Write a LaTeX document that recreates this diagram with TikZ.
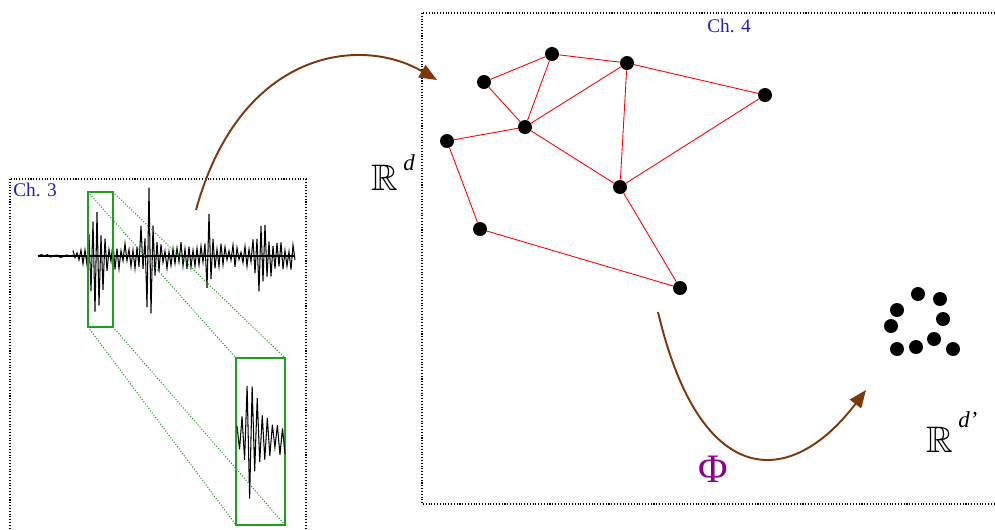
\documentclass[tikz,border=0pt]{standalone}
\usepackage{amsmath, amssymb}
\usepackage{fontspec}
\setmainfont{Liberation Serif}
\usetikzlibrary{arrows.meta}
\definecolor{chapBlue}{RGB}{30, 30, 190}
\definecolor{arrowBrown}{RGB}{125, 55, 10}
\definecolor{zoomGreen}{RGB}{30, 160, 30}
\definecolor{phiPurple}{RGB}{140, 0, 140}

\tikzset{
  vertex/.style={circle, fill=black, inner sep=0pt, minimum size=0.28cm},
  edge/.style={red, line width=0.5pt},
  chapbox/.style={densely dotted, line width=0.6pt},
  chaplabel/.style={text=chapBlue, font=\fontsize{11}{13}\selectfont, inner sep=0pt},
  mapto/.style={arrowBrown, line width=1.1pt, -{Triangle[length=10pt, width=8pt]}},
  zoombox/.style={zoomGreen, line width=0.6pt},
  zoomline/.style={zoomGreen, densely dotted, line width=0.6pt},
  signal/.style={black, line width=0.6pt, line join=miter},
}

\begin{document}
\begin{tikzpicture}[x=0.02cm, y=-0.02cm]
  \useasboundingbox (0,0) rectangle (995,529);
  \clip (0,0) rectangle (995,529);
  \pgfmathsetseed{5}

  % Chapter frames
  \draw[chapbox] (10,179) rectangle (306,560);
  \node[chaplabel] (ch3) at (35,190) {Ch. 3};
  \draw[chapbox] (422,13) rectangle (1020,504);
  \node[chaplabel] (ch4) at (729,26) {Ch. 4};

  % Seismic trace
  \draw[signal] (38,256) -- (295,256);
  \draw[signal] plot[domain=38:73, samples=12] (\x,{256+1.5*rand});
  \draw[signal] plot[domain=73:295, samples=112]
    (\x,{256-(6+8*(\x>112)+60*exp(-((\x-96)/8)^2)+60*exp(-((\x-148)/7)^2)
      +30*exp(-((\x-209)/3)^2)+30*exp(-((\x-263)/7)^2))
      *(1-2*mod(round((\x-73)/2),2))*(0.25+0.75*rnd)});

  % Zoom window
  \coordinate (s1) at (88,192);  \coordinate (s2) at (113,192);
  \coordinate (s3) at (113,327); \coordinate (s4) at (88,327);
  \coordinate (b1) at (236,358); \coordinate (b2) at (285,358);
  \coordinate (b3) at (285,525); \coordinate (b4) at (236,525);
  \draw[zoombox] (s1) rectangle (s3);
  \draw[zoombox] (b1) rectangle (b3);
  \foreach \i in {1,...,4}
    \draw[zoomline] (s\i) -- (b\i);
  \draw[signal] plot[domain=237:285, samples=20]
    (\x,{437-(18+50*exp(-((\x-252)/9)^2))*(1-2*mod(round((\x-237)/2.53),2))*(0.4+0.6*rnd)});

  % Graph in R^d
  \node[vertex] (v1) at (552,54) {};
  \node[vertex] (v2) at (484,82) {};
  \node[vertex] (v3) at (627,63) {};
  \node[vertex] (v4) at (765,95) {};
  \node[vertex] (v5) at (525,127) {};
  \node[vertex] (v6) at (447,141) {};
  \node[vertex] (v7) at (620,187) {};
  \node[vertex] (v8) at (480,229) {};
  \node[vertex] (v9) at (680,288) {};
  \foreach \a/\b in {v2/v1, v1/v3, v3/v4, v2/v5, v1/v5, v5/v3, v3/v7,
                     v4/v7, v6/v5, v5/v7, v6/v8, v8/v9, v7/v9}
    \draw[edge] (\a) -- (\b);

  % Embedded points in R^d'
  \foreach \x/\y [count=\i] in {918/294, 940/299, 897/310, 943/319, 891/326,
                                897/349, 916/347, 934/339, 953/349}
    \node[vertex] (c\i) at (\x,\y) {};

  % Spaces
  \node[anchor=base west, inner sep=0pt] (rd) at (371,190)
    {{\fontsize{21}{24}\selectfont$\mathbb{R}$}\hspace{3pt}\raisebox{11pt}{\fontsize{13}{14}\selectfont\itshape d}};
  \node[anchor=base west, inner sep=0pt] (rdd) at (926,452)
    {{\fontsize{21}{24}\selectfont$\mathbb{R}$}\hspace{3pt}\raisebox{14pt}{\fontsize{13}{14}\selectfont\itshape d’}};
  \node[text=phiPurple, font=\fontsize{23}{25}\selectfont] (phi) at (713,469) {Φ};

  % Maps
  \coordinate (a1) at (196,210);
  \coordinate (a2) at (437,80);
  \coordinate (p1) at (658,312);
  \coordinate (p2) at (866,390);
  \draw[mapto] (a1) .. controls (240,50) and (360,35) .. (a2);
  \draw[mapto] (p1) .. controls (700,490) and (790,490) .. (p2);
\end{tikzpicture}
\end{document}
